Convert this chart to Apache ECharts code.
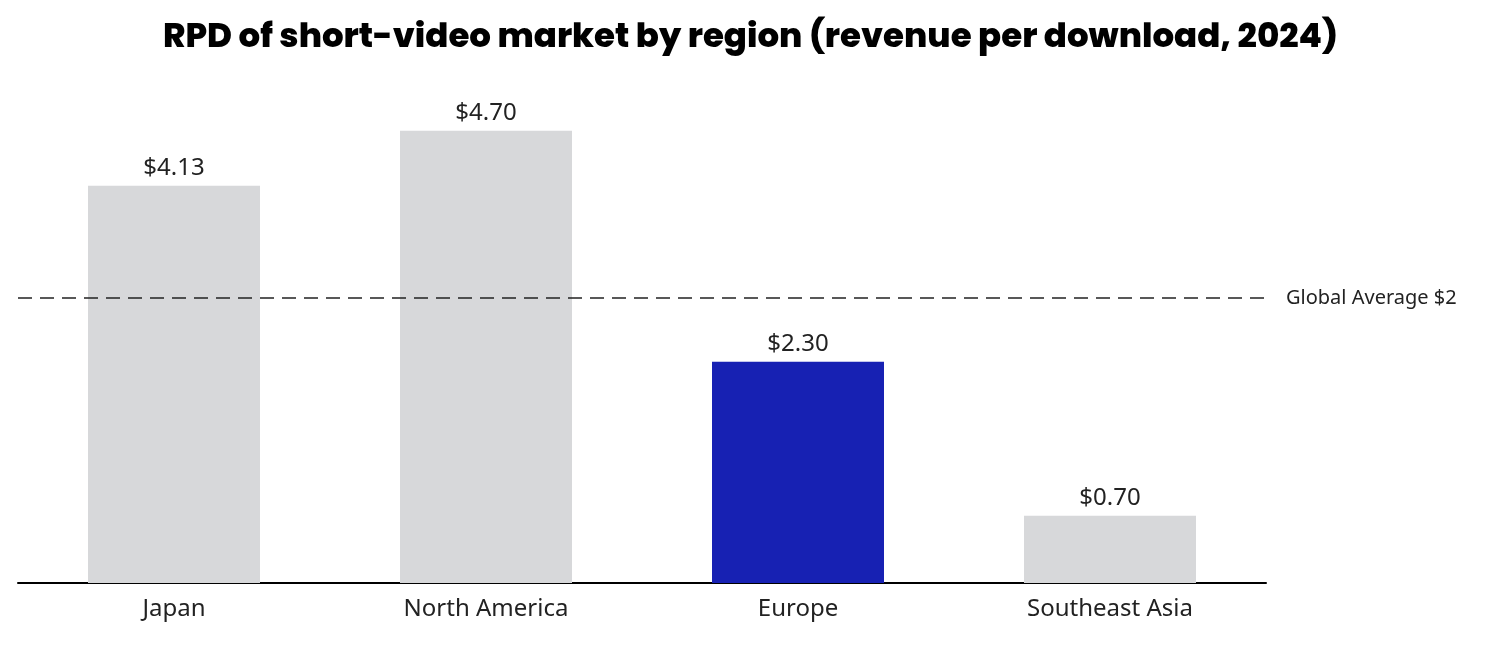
<!DOCTYPE html>
<html>
<head>
<meta charset="utf-8">
<script src="https://cdn.jsdelivr.net/npm/echarts@6/dist/echarts.min.js"></script>
<style>html,body{margin:0;padding:0;background:#fff}#main{width:1501px;height:646px}</style>
</head>
<body>
<div id="main"></div>
<script>
const regions = ['Japan', 'North America', 'Europe', 'Southeast Asia']
const rpd = [4.13, 4.70, 2.30, 0.70]
const highlight = 'Europe'
// line sits where the picture draws it, labelled as in the picture
const avgLinePos = 2.96
const avgLabel = 'Global Average $2'

const chart = echarts.init(document.getElementById('main'))
chart.setOption({
    animation: false,
    title: {
        text: 'RPD of short-video market by region (revenue per download, 2024)',
        left: 'center',
        top: 16,
        textStyle: {fontFamily: 'Poppins, "Open Sans", sans-serif', fontWeight: 800, fontSize: 34, color: '#000'}
    },
    grid: {left: 18, right: 235, top: 102, bottom: 63},
    xAxis: {
        type: 'category',
        data: regions,
        axisTick: {show: false},
        axisLine: {lineStyle: {color: '#000', width: 2}},
        axisLabel: {fontSize: 24, color: '#222', margin: 14, fontFamily: '"Noto Sans", sans-serif'}
    },
    yAxis: {type: 'value', min: 0, max: 5, show: false, splitLine: {show: false}},
    series: [{
        type: 'bar',
        barWidth: 172,
        data: rpd.map((v, i) => ({
            value: v,
            itemStyle: {color: regions[i] === highlight ? '#1721b3' : '#d7d8da'}
        })),
        label: {
            show: true, position: 'top', distance: 6, fontSize: 24, color: '#222',
            fontFamily: '"Noto Sans", sans-serif',
            formatter: p => '$' + p.value.toFixed(2)
        },
        markLine: {
            symbol: 'none',
            silent: true,
            lineStyle: {color: '#222', type: [14, 8], width: 1.5},
            label: {position: 'end', formatter: avgLabel, fontSize: 20, color: '#222', distance: 20, fontFamily: '"Noto Sans", sans-serif'},
            data: [{yAxis: avgLinePos}]
        }
    }]
})
</script>
</body>
</html>
